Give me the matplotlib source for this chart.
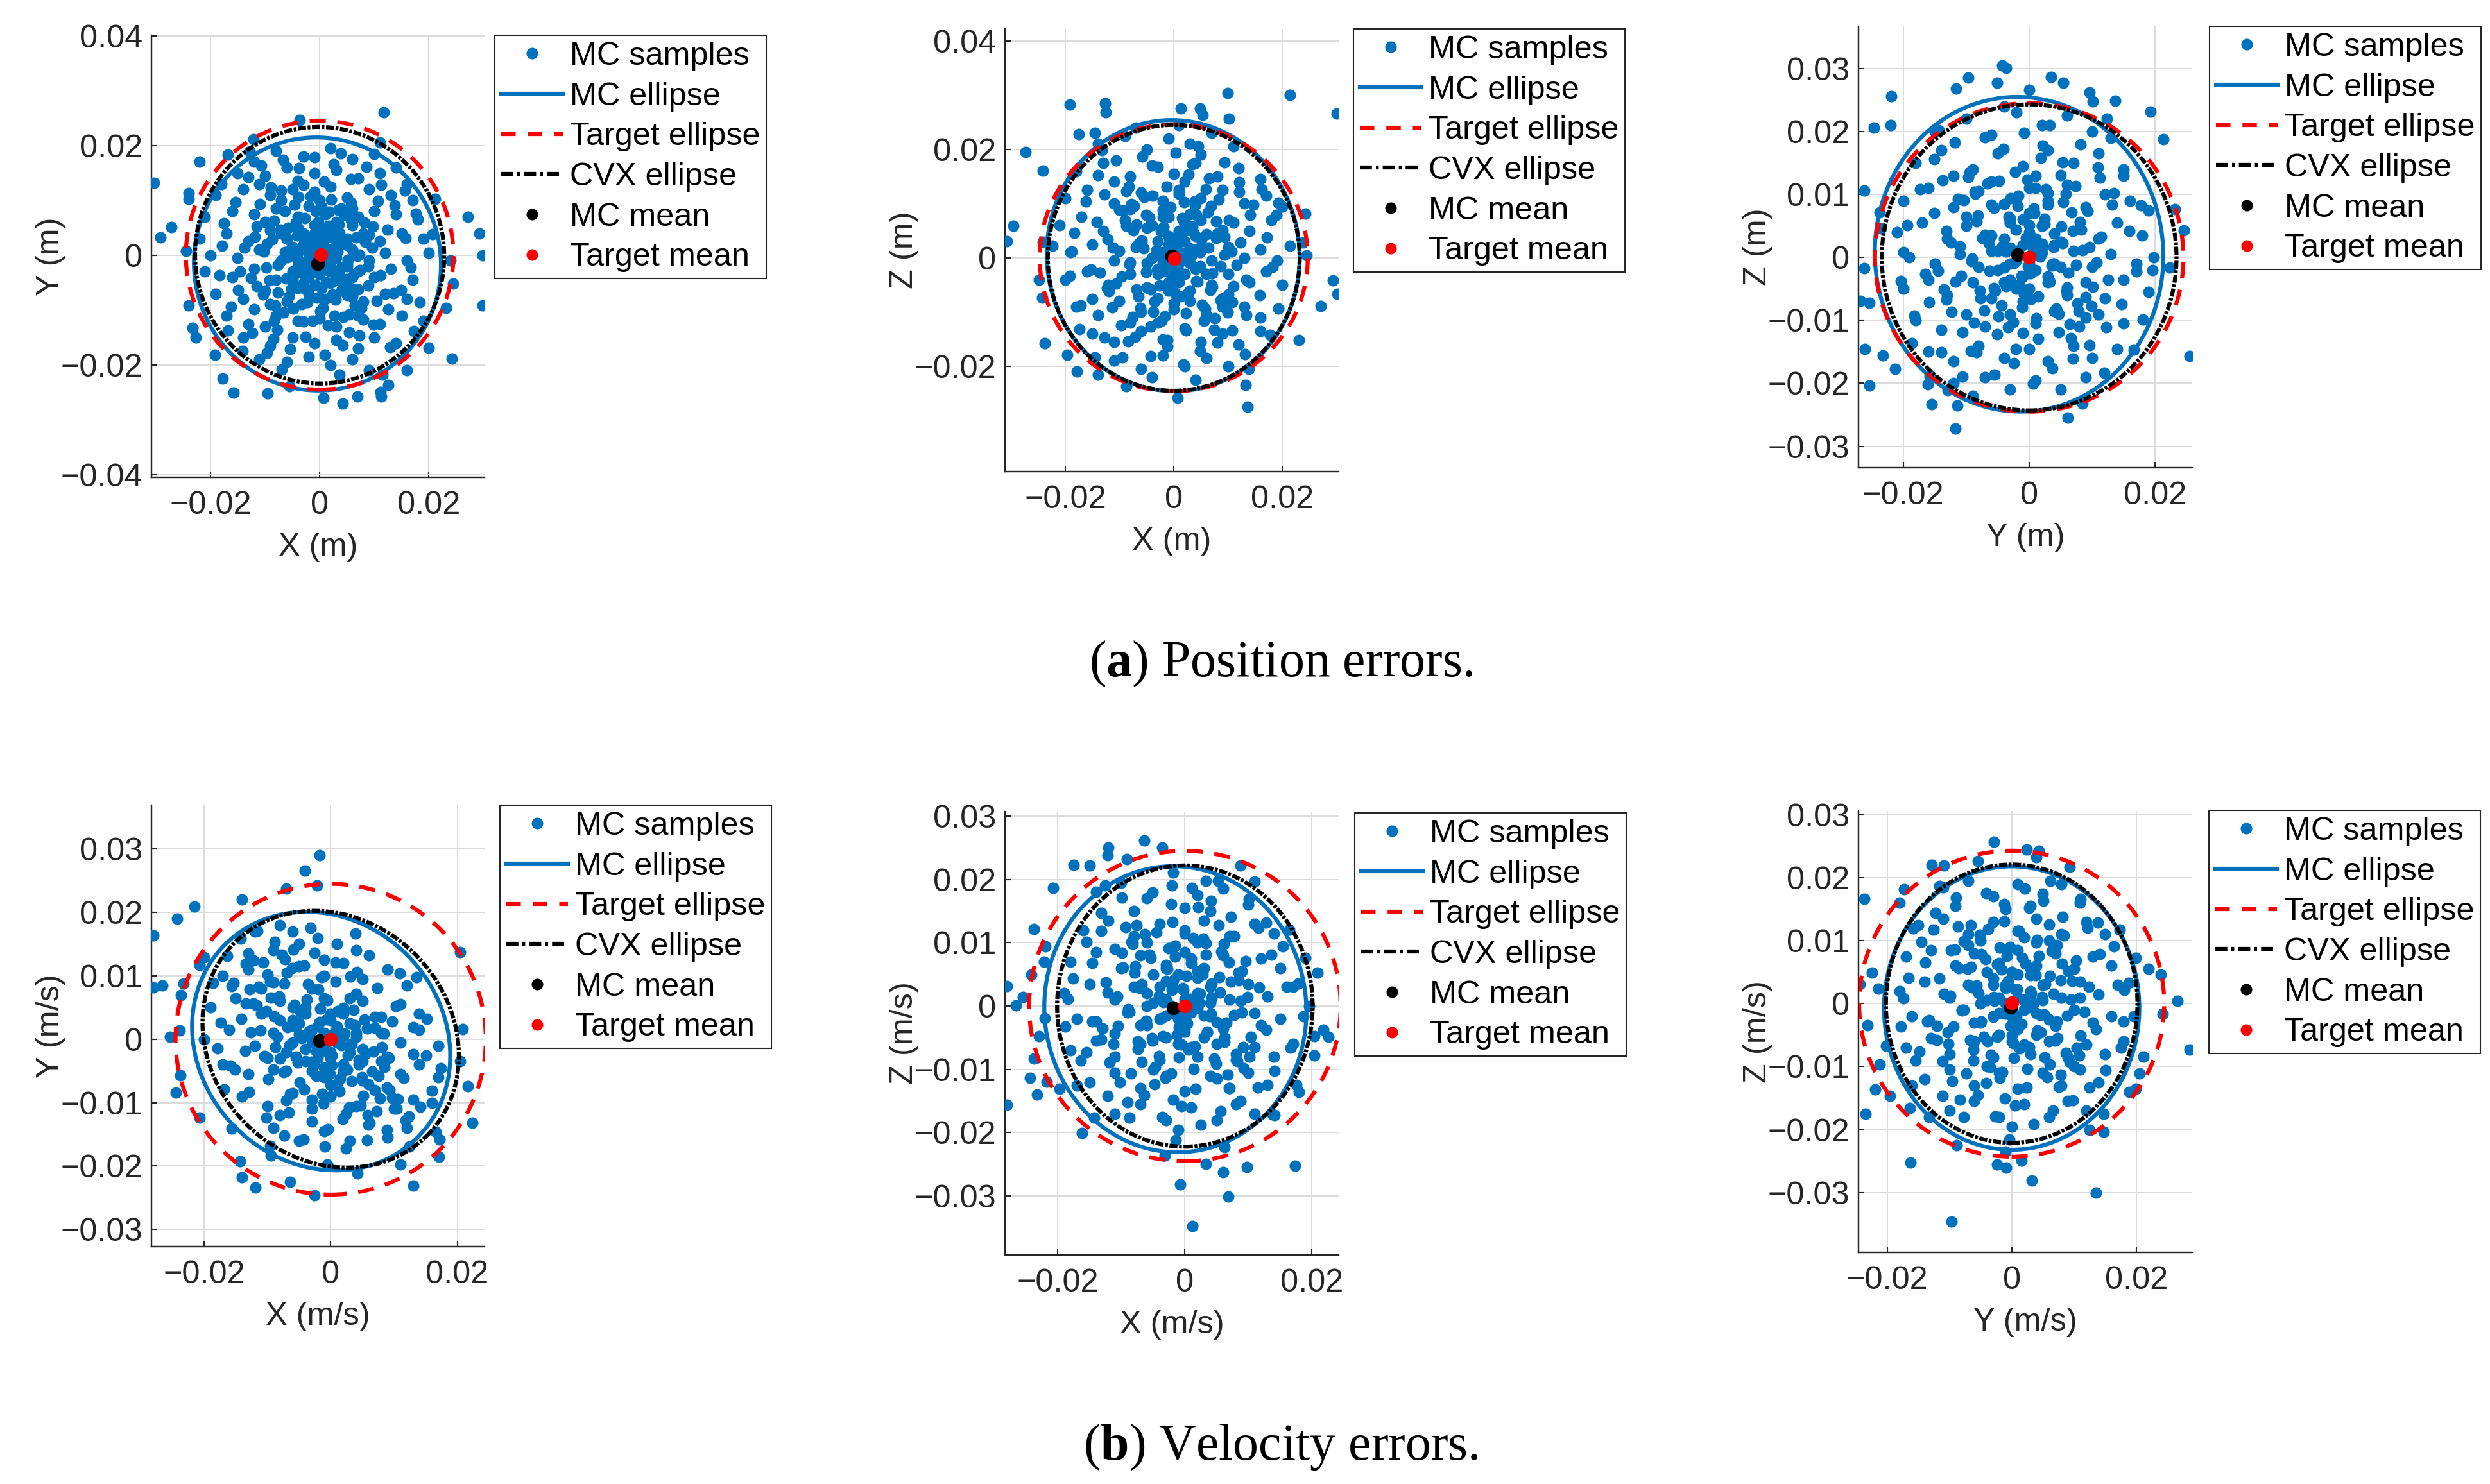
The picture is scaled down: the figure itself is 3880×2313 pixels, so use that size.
import numpy as np
import matplotlib
matplotlib.use("Agg")
import matplotlib.pyplot as plt
from matplotlib.patches import Ellipse
from matplotlib.lines import Line2D
from matplotlib.ticker import FuncFormatter

W, H, DPI = 3880, 2313, 250

# ------------------------------------------------------------------
# Data (mm or mm/s, converted to SI when plotted)
# ------------------------------------------------------------------
pos_xy = [
    (-30.3, 13.2), (11.8, 26.1), (-3.6, 24.6), (-22.0, 17.1), (-27.2, 5.1), (-29.2, 3.2), (-24.4, 0.8),
    (27.1, 7.0), (29.3, 4.0), (29.8, 0.0), (29.9, -9.2), (24.4, -5.2), (24.2, -18.8), (20.0, -16.9),
    (16.0, -21.0), (-15.7, -25.1), (-9.5, -25.2), (0.7, -26.0), (4.2, -27.1), (6.9, -25.8), (11.3, -25.8),
    (11.2, -24.9), (12.6, -23.6), (-19.2, -18.1), (-22.7, -15.0), (-23.3, -13.3), (-24.0, -9.2),
    (-24.0, 10.3), (-24.0, 11.3), (-16.8, 18.3), (-12.1, 21.2), (11.0, 20.6), (21.1, 10.3), (20.7, 3.8),
    (24.0, -1.0), (23.2, -9.6), (-17.8, -22.5), (-5.5, -23.9), (11.5, -21.8), (3.6, -21.8), (-6.9, -20.8),
    (-8, 19), (-3, 18), (2, 19.5), (6, 17.5), (10, 18.5), (-12, 17), (14, 16),
    (-15, 15), (-10, 14.5), (-6, 16), (-1, 15), (3, 15.5), (7, 14), (11, 15), (16, 13), (-18, 13), (-4, 13.5),
    (-19, 11), (-14, 12), (-9, 11), (-5, 12), (-1, 11.5), (2, 12.5), (5, 10.5), (9, 12), (13, 11), (17, 10),
    (-7, 10), (0, 10),
    (-21, 7), (-16, 8), (-12, 7.5), (-8, 8.5), (-4, 7), (-2, 9), (1, 7.5), (4, 8.5), (7, 7), (10, 8),
    (14, 7.5), (18, 6.5), (-10, 6), (3, 6),
    (-22, 3), (-17, 4), (-13, 2.5), (-9, 4.5), (-6, 3), (-3, 4), (0, 2.5), (2, 4.5), (5, 3), (8, 4),
    (11, 2.5), (15, 4), (19, 3), (-1, 5.5), (6, 5.5), (-5, 1.5),
    (-20, 0), (-15, -0.5), (-11, 1), (-7, -1), (-4, 0.5), (-2, -1.5), (1, 0), (3, -0.5), (6, 1), (9, -1),
    (12, 0.5), (16, -1), (20, 0.5), (-1, 1),
    (-21, -3), (-16, -4), (-12, -2.5), (-8, -4.5), (-5, -3), (-3, -5), (0, -3.5), (2, -2), (4, -4.5),
    (7, -3), (10, -4), (13, -2.5), (17, -4.5), (-1, -2), (5, -1.5),
    (-19, -7), (-14, -8), (-10, -6.5), (-6, -8.5), (-2, -7), (1, -8), (4, -6.5), (8, -8.5), (12, -7),
    (16, -8), (-4, -6), (6, -7.5),
    (-17, -11), (-13, -12.5), (-8, -11), (-4, -12), (0, -11.5), (3, -13), (7, -11), (11, -12.5),
    (15, -11), (19, -12), (-10, -13),
    (-14, -15), (-9, -16.5), (-5, -15), (-1, -16), (3, -15.5), (7, -17), (10, -15), (14, -16),
    (-6, -19.5), (-2, -18.5), (2, -20), (6, -19), (9, -21), (-11, -19),
    (-3, 2), (0, -1), (2, 1), (-2, -4), (1, 3), (-4, -2), (3, -3), (-1, 4), (4, 2), (-5, 0), (0, 5),
    (2, -5), (-3, -6), (5, -2), (-6, 3), (1, -2.5), (-2, 0.5), (3, 4), (-4, 5), (6, -4),
    (-11.5, 5.2), (-9.8, -2.3), (-8.7, 2.9), (-7.6, -6.8), (-6.4, 8.1), (-5.9, -0.4), (-4.8, -9.7),
    (-4.1, 3.6), (-3.5, -3.2), (-2.7, 6.8), (-2.2, -8.6), (-1.4, 1.9), (-0.8, -5.4), (0.3, 8.9),
    (0.9, -1.7), (1.6, 5.3), (2.4, -7.2), (3.1, 2.6), (3.8, -3.9), (4.5, 7.4), (5.2, -0.8), (5.9, -6.1),
    (6.7, 3.3), (7.4, -2.7), (8.2, 5.9), (8.9, -5.5), (9.6, 1.4), (10.4, -8.3), (-12.6, -4.1),
    (-10.9, 9.3), (-9.1, -8.9), (-7.2, 4.7), (-6.1, -4.2), (-5.3, 1.1), (-3.9, 10.6), (-3.0, -12.1),
    (-1.9, 3.1), (-1.1, -3.0), (-0.2, 6.1), (0.6, -9.6), (1.3, 0.8), (2.1, 10.2), (2.8, -4.6), (3.6, 4.1),
    (4.3, -11.3), (5.0, 1.9), (5.8, 9.6), (6.5, -9.2), (7.3, 0.1), (8.0, -11.7), (-13.8, 1.4),
    (-12.0, -9.8), (-10.2, 0.7), (-8.3, -11.9), (-7.0, 11.8), (-5.6, -7.5), (-4.4, 5.9), (-2.5, -1.1),
    (-0.5, -7.8), (1.9, -2.9), (3.4, 8.3), (4.9, -4.4), (6.2, 6.8), (9.1, 3.7), (11.2, -3.6), (12.4, 4.6),
    (10.7, 9.9), (-2.9, 12.9), (0.8, 13.4), (-8.5, -15.2), (5.4, -14.1), (13.5, -6.9), (-14.9, -6.4),
    (-11.0, 13.0), (1.5, -12.8),
    (-9.2, -4.6), (-8.4, 6.3), (-7.7, -1.8), (-7.0, 3.9), (-6.6, -10.4), (-5.8, 5.0), (-5.2, -6.1),
    (-4.6, 9.2), (-4.0, -0.7), (-3.3, -8.9), (-2.8, 3.3), (-2.1, -6.4), (-1.6, 10.7), (-1.0, -1.2),
    (-0.4, 4.4), (0.1, -10.2), (0.7, 1.6), (1.2, -4.9), (1.8, 7.9), (2.3, -0.9), (2.9, -8.1), (3.5, 5.6),
    (4.0, -2.2), (4.6, 2.9), (5.1, -7.3), (5.7, 6.4), (6.3, -3.4), (6.9, -0.1), (7.6, -9.6), (8.3, 2.4),
    (-10.4, -7.2), (-9.6, 2.1), (-8.1, -9.1), (-6.3, 0.6), (-4.9, -4.3), (-3.6, 6.9), (-2.4, -2.7),
    (-1.3, -11.9), (0.4, -6.0), (1.5, 3.8), (2.7, -11.0), (3.3, 0.7), (4.8, -5.2), (6.0, 8.5), (7.1, -6.2),
    (8.9, -2.0), (9.8, 5.2), (-11.9, 3.4), (-0.7, 8.1), (5.4, -10.8),
    (-17.5, 5.8), (-16.2, -9.4), (-15.4, 9.7), (-14.6, -2.9), (-13.1, 14.3), (-12.4, -14.2), (-11.5, -5.6),
    (-10.7, 16.4), (-9.6, -17.8), (-8.9, 12.4), (-7.8, -13.6), (-6.7, 17.4), (-5.4, -17.1), (-3.8, 15.9),
    (-2.6, -14.9), (-0.9, 17.9), (0.9, -18.2), (2.6, 16.6), (4.2, -16.4), (5.7, 13.9), (7.3, -14.7),
    (8.6, 16.1), (9.9, -12.7), (11.3, 12.9), (12.6, -9.8), (13.8, 9.1), (14.9, -6.3), (15.8, 3.1),
    (16.7, -2.2), (17.6, 7.6), (18.3, -8.6), (-18.4, -3.6), (-17.9, 1.7), (-16.8, -13.7), (-14.1, -17.4),
    (12.9, -16.7), (15.6, 11.8), (-12.8, 18.9), (3.9, 18.6), (17.3, -13.8),
]

pos_xz = [
    (9.9, 30.4), (21.4, 30.0), (30.0, 26.6), (-19.1, 28.3), (-12.7, 28.5), (-12.5, 26.8), (1.3, 27.5),
    (4.9, 27.5), (5.3, 26.3), (10.2, 25.6), (-17.5, 22.8), (-14.6, 23.0), (-27.3, 19.5), (-24.1, 16.1),
    (-29.6, 5.9), (-30.8, 3.1), (-24.8, -4.0), (-24.2, -7.4), (-23.8, -15.8), (-19.6, -17.9),
    (-17.8, -20.9), (-13.9, -21.5), (-8.7, -23.7), (0.7, -25.8), (13.6, -27.5), (13.2, -23.4),
    (13.8, -20.5), (23.1, -15.2), (27.1, -8.9), (29.3, -4.2), (30.2, -6.7), (24.2, 8.1), (24.5, 0.5),
    (23.8, 2.8), (19.3, 10.1), (21.4, 2.2), (-24.1, 2.9), (-22.4, 2.2),
    (-14, 21), (-9, 22.5), (-5, 20), (-1, 22), (3, 21), (7, 23), (11, 20.5), (-7, 24), (1, 24.5), (5, 19),
    (-18, 16), (-13, 17.5), (-8, 15), (-4, 17), (0, 15.5), (4, 17.5), (8, 15), (12, 16.5), (16, 14.5),
    (-11, 14), (2, 14),
    (-20, 11), (-16, 12.5), (-11, 10), (-6, 12), (-2, 10.5), (1, 12.5), (5, 11), (9, 12.5), (13, 10),
    (17, 11.5), (20, 9.5), (-8, 9),
    (-21, 6), (-17, 7.5), (-13, 5), (-9, 7), (-5, 5.5), (-2, 7.5), (2, 5), (5, 7), (8, 4.5), (11, 6.5),
    (14, 5), (18, 7), (-1, 4), (3, 8),
    (-19, 1), (-15, 2.5), (-11, -0.5), (-7, 2), (-4, 0), (-1, 2.5), (1, -1), (4, 1.5), (7, -0.5), (10, 2),
    (13, 0), (16, 1.5), (19, -0.5), (-2, 1), (2, 3),
    (-20, -4), (-16, -2.5), (-12, -5), (-8, -3), (-5, -5.5), (-2, -2.5), (1, -4.5), (4, -2), (7, -5),
    (10, -3), (14, -4.5), (17, -2.5), (20, -5), (-1, -6),
    (-18, -9), (-14, -10.5), (-10, -8), (-6, -10), (-3, -7.5), (0, -9.5), (3, -8), (6, -10.5), (9, -7.5),
    (13, -9), (16, -11), (-8, -12),
    (-15, -14), (-11, -15.5), (-6, -13.5), (-2, -15), (2, -13), (5, -15.5), (9, -14), (12, -16),
    (16, -13.5), (-3, -12),
    (-11, -19), (-6, -20.5), (-2, -18), (2, -20), (6, -18.5), (10, -20), (-4, -22), (4, -22.5),
    (-1, 0.5), (1, 1), (0, -2), (-3, 3), (3, -1), (2, -3), (-2, -1), (0, 3), (-3, -3), (1, 5), (-4, 6),
    (3, -6), (5, 2), (-5, -1), (-1, -4.5), (4, 4), (-6, 2.5), (2, 6.5), (-2, 5), (6, -3),
    (-12.2, 3.4), (-10.6, -4.8), (-9.3, 8.7), (-8.1, -1.2), (-7.4, 5.1), (-6.2, -9.3), (-5.5, 1.8),
    (-4.7, -5.6), (-3.9, 11.4), (-3.1, -2.2), (-2.4, 4.9), (-1.6, -10.8), (-0.9, 7.6), (-0.3, -3.7),
    (0.5, 2.2), (1.2, -7.1), (1.9, 10.3), (2.6, -0.5), (3.4, 5.8), (4.1, -4.3), (4.8, 1.1), (5.6, -11.6),
    (6.3, 8.4), (7.1, -2.9), (7.8, 3.7), (8.6, -7.8), (9.4, 0.6), (10.2, 6.9), (11.0, -5.2), (12.3, 2.8),
    (-13.6, -2.7), (-11.4, -9.1), (-10.1, 1.3), (-8.8, 12.3), (-6.9, -5.8), (-5.1, 7.9), (-4.2, -12.7),
    (-2.8, 0.4), (-1.3, 13.1), (0.1, -6.4), (0.9, 4.6), (2.3, -13.4), (3.0, 1.7), (3.9, 9.7), (5.2, -8.6),
    (6.0, 4.4), (6.8, -5.9), (8.3, 10.8), (9.9, -10.1), (11.6, -1.3), (-14.2, 6.6), (-12.8, 11.7),
    (-9.7, -12.4), (-7.8, 9.9), (-6.5, 2.6), (-3.5, -8.1), (-2.0, 8.9), (0.7, -1.9), (1.6, 7.3),
    (4.5, -1.8), (5.9, 12.6), (7.5, -13.3), (9.0, 5.1), (10.8, -8.2), (13.4, -4.0), (-1.2, -15.1),
    (2.7, 15.3), (-8.4, -15.4), (12.1, 12.2), (-15.0, -7.6), (14.1, 7.9),
    (-9.6, -3.4), (-8.8, 5.9), (-8.0, -0.8), (-7.3, 9.6), (-6.5, -7.1), (-5.9, 3.2), (-5.1, -2.6),
    (-4.5, 7.4), (-3.8, -9.9), (-3.2, 1.4), (-2.6, -5.1), (-1.9, 5.7), (-1.3, -1.3), (-0.6, 9.3),
    (0.0, -8.4), (0.6, 2.6), (1.3, -2.9), (1.9, 6.6), (2.5, -6.7), (3.2, 0.3), (3.8, 10.4), (4.4, -4.4),
    (5.1, 3.4), (5.8, -9.4), (6.4, 1.9), (7.1, -5.3), (7.8, 6.7), (8.6, -1.6), (9.4, 3.9), (10.1, -6.8),
    (-11.2, 1.9), (-10.1, 8.8), (-7.6, -10.9), (-5.4, 11.2), (-4.2, -5.8), (-2.2, -11.6), (-0.9, 3.9),
    (0.9, 11.8), (2.2, -10.2), (3.6, 4.8), (4.9, -1.5), (6.9, 9.6), (7.6, -11.1), (9.0, -9.0), (10.7, 1.2),
    (-12.3, -5.6), (-0.3, -4.9), (4.1, 7.9), (-6.9, 6.1), (1.7, 0.9),
    (-18.3, 4.6), (-17.1, -8.8), (-16.2, 10.4), (-15.3, -2.1), (-13.9, 15.2), (-12.8, -14.7), (-11.9, -6.2),
    (-10.6, 17.9), (-9.4, -18.4), (-8.3, 13.1), (-7.1, -14.6), (-5.8, 18.7), (-4.3, -18.1), (-2.9, 16.8),
    (-1.2, -16.3), (0.4, 19.4), (1.8, -19.6), (3.4, 17.3), (4.9, -17.2), (6.5, 14.7), (8.1, -15.6),
    (9.4, 17.6), (10.8, -13.4), (12.1, 13.9), (13.4, -10.6), (14.7, 9.8), (15.9, -6.9), (17.1, 3.8),
    (18.2, -1.7), (18.9, 7.9), (19.3, -9.4), (-19.2, -3.3), (-18.8, 1.2), (-17.4, -13.1), (-14.6, -18.3),
    (13.1, -17.8), (16.2, 12.6), (-13.2, 19.8), (4.5, 20.6), (17.8, -14.2),
]

pos_yz = [
    (-4.3, 30.5), (-3.7, 30.1), (-9.7, 28.5), (3.5, 28.6), (5.4, 27.7), (-11.6, 26.8), (-5.1, 27.7),
    (0.0, 26.6), (9.6, 26.2), (10.1, 24.8), (13.7, 24.9), (-21.9, 25.6), (-24.7, 20.6), (-22.0, 21.0),
    (19.3, 23.1), (21.3, 18.8), (-26.2, 10.6), (23.1, 7.7), (24.6, 4.3), (-26.8, -6.9), (-25.4, -7.2),
    (-26.1, -14.5), (-23.2, -15.6), (-21.3, -17.7), (-25.4, -20.4), (-15.5, -23.3), (-11.4, -23.5),
    (-11.7, -27.2), (6.1, -25.5), (8.5, -23.2), (25.5, -15.7), (19.8, 0.0), (19.6, -2.0), (22.3, -1.6),
    (-26.2, -1.7), (-23.5, 4.6), (-23.7, 7.2), (-16.1, -20.2), (-12.9, -21.1), (12.3, 22.0),
    (-15, 20), (-10, 22), (-6, 19.5), (-2, 23), (2, 21), (6, 22.5), (10, 20), (-4, 24), (13, 19),
    (-18, 15), (-14, 17), (-9, 14), (-5, 16.5), (-1, 14.5), (3, 17), (7, 15), (11, 16.5), (15, 14),
    (-12, 13), (1, 13),
    (-20, 9), (-16, 11), (-12, 8), (-8, 10.5), (-4, 8.5), (0, 11), (3, 9), (6, 11.5), (9, 8), (12, 10),
    (16, 9), (19, 7.5), (-6, 12),
    (-21, 4), (-17, 5.5), (-13, 3), (-10, 5), (-6, 3.5), (-3, 5.5), (0, 3), (2, 5), (5, 2.5), (8, 4.5),
    (11, 3), (14, 5.5), (18, 3.5), (-1, 6),
    (-19, 0), (-15, -1), (-11, 0.5), (-8, -1.5), (-5, 1), (-2, -0.5), (1, 0.5), (4, -1), (7, 1),
    (10, -1.5), (13, 0.5), (17, -1), (-3, 1.5),
    (-20, -5), (-16, -3.5), (-13, -6), (-9, -4), (-6, -6.5), (-3, -3.5), (0, -5), (3, -3), (6, -6),
    (9, -4), (12, -6.5), (15, -3.5), (19, -5.5), (-1, -7),
    (-18, -10), (-14, -11.5), (-10, -9), (-7, -11), (-3, -9), (1, -10.5), (4, -8.5), (8, -11), (11, -9),
    (15, -10.5), (-1, -12),
    (-16, -15), (-12, -16.5), (-8, -14), (-4, -16), (0, -14.5), (3, -16.5), (7, -14), (10, -16),
    (14, -14.5),
    (-12, -20), (-7, -19), (-3, -21), (1, -19.5), (5, -21), (9, -19), (-9, -22),
    (-2, 1), (0, -1), (-1, 2), (1, -2), (-3, -1), (2, 1.5), (-1, -3), (0, 4), (-4, 3), (3, -4), (-5, -2),
    (2, 5), (4, 2), (-2, -5), (-6, 1), (1, 3), (-3, 5.5), (5, -1.5), (-4, -4), (0, 7),
    (-13.1, 4.2), (-11.7, -3.9), (-10.4, 9.1), (-9.2, -0.6), (-8.3, 5.7), (-7.1, -8.4), (-6.4, 2.3),
    (-5.6, -4.9), (-4.8, 12.1), (-4.0, -1.6), (-3.3, 6.4), (-2.5, -10.3), (-1.8, 8.2), (-1.2, -2.9),
    (-0.4, 2.7), (0.3, -6.6), (1.0, 11.0), (1.7, 0.1), (2.5, 6.1), (3.2, -3.8), (3.9, 1.6), (4.7, -11.9),
    (5.4, 8.8), (6.2, -2.4), (6.9, 4.2), (7.7, -7.3), (8.5, 1.1), (9.3, 7.4), (10.1, -4.7), (11.4, 3.3),
    (-14.5, -2.1), (-12.3, -8.6), (-11.0, 1.8), (-9.7, 12.8), (-7.8, -5.3), (-6.0, 8.4), (-5.1, -12.2),
    (-3.7, 0.9), (-2.2, 13.6), (-0.8, -5.9), (0.0, 5.1), (1.4, -12.9), (2.1, 2.2), (3.0, 10.2),
    (4.3, -8.1), (5.1, 4.9), (5.9, -5.4), (7.4, 11.3), (9.0, -9.6), (10.7, -0.8), (-15.1, 7.1),
    (-13.7, 12.2), (-10.6, -11.9), (-8.7, 10.4), (-7.4, 3.1), (-4.4, -7.6), (-2.9, 9.4), (-0.2, -1.4),
    (0.7, 7.8), (3.6, -1.3), (5.0, 13.1), (6.6, -12.8), (8.1, 5.6), (9.9, -7.7), (12.5, -3.5),
    (-2.1, -14.6), (1.8, 15.8), (-9.3, -14.9), (11.2, 12.7), (-15.9, -7.1), (13.2, 8.4),
    (-10.8, -2.9), (-10.0, 6.4), (-9.1, -0.2), (-8.5, 10.1), (-7.7, -6.5), (-7.0, 3.6), (-6.3, -2.1),
    (-5.6, 7.9), (-4.9, -9.4), (-4.3, 1.8), (-3.7, -4.6), (-3.0, 6.2), (-2.4, -0.9), (-1.7, 9.8),
    (-1.1, -7.9), (-0.5, 3.1), (0.2, -2.5), (0.8, 7.1), (1.4, -6.2), (2.1, 0.7), (2.7, 10.8), (3.3, -3.9),
    (4.0, 3.8), (4.7, -8.9), (5.3, 2.3), (6.0, -4.8), (6.7, 7.2), (7.5, -1.2), (8.3, 4.4), (9.0, -6.3),
    (-12.4, 2.4), (-11.3, 9.3), (-8.8, -10.4), (-6.6, 11.7), (-5.4, -5.3), (-3.4, -11.1), (-2.1, 4.4),
    (-0.3, 12.3), (1.1, -9.7), (2.5, 5.3), (3.8, -1.0), (5.8, 10.1), (6.4, -10.6), (7.9, -8.5), (9.6, 1.7),
    (-13.5, -5.1), (-1.5, -4.4), (3.0, 8.4), (-8.1, 6.6), (0.6, 1.4),
    (-19.4, 5.1), (-18.2, -9.3), (-17.3, 10.8), (-16.5, -2.6), (-15.1, 15.6), (-14.0, -15.1), (-13.1, -6.7),
    (-11.8, 18.3), (-10.6, -18.9), (-9.5, 13.5), (-8.3, -15.1), (-7.0, 19.1), (-5.5, -18.6), (-4.1, 17.2),
    (-2.4, -16.8), (-0.8, 19.8), (0.6, -20.1), (2.2, 17.7), (3.7, -17.6), (5.3, 15.1), (6.9, -16.1),
    (8.2, 18.0), (9.6, -13.9), (10.9, 14.3), (12.2, -11.1), (13.5, 10.2), (14.7, -7.4), (15.9, 4.2),
    (17.0, -2.2), (17.7, 8.3), (18.1, -9.9), (-20.4, -3.8), (-20.0, 0.8), (-18.6, -13.6), (-15.8, -18.8),
    (11.9, -18.3), (15.0, 13.0), (-14.4, 20.2), (3.3, 21.0), (16.6, -14.7),
]

vel_xy = [
    (-1.7, 29.0), (-4.1, 26.6), (-2.2, 24.3), (-7.0, 23.7), (-14.0, 22.0), (-21.5, 20.9), (-24.2, 19.0),
    (-28.0, 16.4), (-28.0, 8.2), (-26.6, 8.5), (-23.2, 8.8), (-25.4, 0.4), (-23.8, 1.4), (-23.7, -5.7),
    (-24.4, -8.4), (-20.7, -12.4), (-15.6, -14.1), (-14.3, -19.2), (-14.0, -21.8), (-11.9, -23.4),
    (-6.4, -22.5), (-2.6, -24.6), (4.2, -21.2), (11.0, -19.8), (13.0, -23.1), (17.1, -18.5),
    (17.2, -15.8), (22.4, -13.2), (21.7, -7.4), (20.4, -3.5), (20.9, 1.6), (20.4, 13.7), (3.9, 16.7),
    (13.6, 9.8), (15.2, 3.2), (-20.7, 11.7), (-23.6, 7.0), (-20.0, 12.9), (-9.4, -18.3), (-0.5, -19.8),
    (-12, 17), (-8, 18), (-5, 15), (-9, 14), (-2, 16), (1, 15), (4, 14), (-13, 13.5), (-6, 17),
    (-17, 10), (-13, 11), (-9, 9), (-5, 11.5), (-1, 10), (2, 12), (5, 9.5), (9, 11), (12, 8.5), (-11, 8),
    (-3, 8),
    (-19, 5), (-15, 6.5), (-11, 4), (-8, 6), (-4, 5), (-1, 6.5), (2, 4), (5, 6), (8, 3.5), (11, 5.5),
    (14, 4), (-6, 3), (0, 3),
    (-20, 0), (-16, 1.5), (-12, -1), (-9, 1), (-6, -0.5), (-3, 1.5), (-1, -1), (2, 0.5), (5, -1.5), (8, 1),
    (11, -0.5), (14, 1.5), (17, -1), (-4, -1.5), (1, 2),
    (-17, -4), (-13, -5.5), (-10, -3), (-7, -5), (-4, -3.5), (-1, -6), (2, -4), (5, -6.5), (8, -3.5),
    (11, -5.5), (14, -4), (17, -6), (0, -3),
    (-14, -9), (-10, -10.5), (-6, -8.5), (-3, -11), (0, -9), (4, -10.5), (7, -8), (10, -11), (13, -9.5),
    (16, -10), (-8, -12),
    (-9, -14), (-5, -16), (-1, -14.5), (3, -16), (6, -13.5), (9, -15.5), (12, -14), (-3, -13),
    (-2, 2), (0, -2), (-3, 0), (-1, 1), (1, -0.5), (-5, 2.5), (3, -2), (-2, -3), (-4, 4), (2, -5),
    (-6, 5), (4, 1), (-7, -2), (-3, -5), (0, 4), (-8, 3), (1, -7), (5, -3.5), (-1, -4.5), (3, 2.5),
    (-12.8, 7.9), (-11.1, 1.4), (-10.0, 10.2), (-8.9, 3.6), (-8.0, -3.1), (-7.3, 8.8), (-6.5, -0.9),
    (-5.7, 5.4), (-4.9, -6.8), (-4.2, 11.6), (-3.4, 1.3), (-2.7, -4.1), (-1.9, 7.9), (-1.3, -8.6),
    (-0.6, 3.1), (0.2, -2.6), (0.8, 9.1), (1.5, -6.2), (2.2, 0.9), (2.9, -10.7), (3.6, 4.6), (4.4, -3.3),
    (5.1, -8.9), (5.8, 1.7), (6.6, -5.1), (7.3, -11.4), (8.1, -1.2), (8.9, -7.6), (9.7, 2.8),
    (10.6, -9.4), (-14.1, 3.2), (-12.2, 12.4), (-10.5, -2.7), (-9.4, 6.6), (-7.7, 13.3), (-6.1, 2.1),
    (-5.2, -3.7), (-3.8, 6.2), (-2.3, -1.9), (-1.0, 12.5), (-0.1, -5.5), (1.1, 4.4), (1.9, -12.6),
    (3.3, -0.7), (4.0, 7.2), (4.9, -6.0), (6.2, -13.2), (7.0, 3.5), (8.5, -4.4), (11.5, -6.1),
    (-15.3, 8.9), (-13.5, -1.8), (-11.7, 5.3), (-9.9, -6.3), (-8.4, 0.4), (-6.9, 10.5), (-4.6, 0.2),
    (-3.0, -9.5), (-1.6, 4.8), (0.5, 0.9), (2.6, -4.8), (3.8, 2.2), (5.5, -2.2), (7.8, -9.3), (9.2, -3.0),
    (12.3, -12.2), (-7.0, -9.6), (3.1, 9.9), (13.1, -2.4), (-15.8, -4.2), (-0.4, -14.2),
    (-10.2, 4.4), (-9.5, 9.1), (-8.7, -1.2), (-8.1, 6.8), (-7.4, -5.2), (-6.8, 1.9), (-6.1, 11.2),
    (-5.5, -2.8), (-4.8, 4.3), (-4.2, -7.9), (-3.6, 8.7), (-2.9, -0.4), (-2.3, -5.8), (-1.7, 2.7),
    (-1.1, -10.1), (-0.5, 6.1), (0.2, -4.1), (0.8, 1.3), (1.4, -8.2), (2.0, 4.9), (2.7, -2.6), (3.3, -6.6),
    (4.0, 0.4), (4.7, -10.4), (5.3, 3.1), (6.0, -7.1), (6.8, -1.9), (7.6, -5.8), (8.4, 0.9), (9.3, -8.0),
    (-12.6, 1.1), (-11.4, 8.3), (-9.0, -4.8), (-7.2, 12.6), (-5.0, 0.8), (-3.1, -3.6), (-1.4, 9.8),
    (0.0, -7.2), (1.7, -0.9), (3.0, 6.4), (4.4, -4.0), (5.9, -12.0), (7.0, 1.8), (8.9, -2.8),
    (10.4, -11.0), (-13.4, 5.6), (-0.8, -1.8), (2.4, -11.8), (-6.4, -8.6), (-10.7, 12.1),
    (-18.6, 8.9), (-17.4, 2.6), (-16.3, 13.1), (-15.1, -4.8), (-14.2, 15.9), (-12.9, -8.3), (-11.6, 17.1),
    (-10.2, -12.4), (-8.8, 15.4), (-7.3, -15.2), (-5.9, 14.1), (-4.3, -15.8), (-2.6, 13.6), (-0.9, -16.9),
    (0.8, 12.1), (2.4, -17.2), (4.1, 10.6), (5.8, -15.9), (7.4, 8.1), (8.9, -14.3), (10.3, 5.2),
    (11.8, -12.8), (13.1, 1.9), (14.2, -10.6), (15.1, -2.6), (16.0, -8.1), (16.6, -14.6), (12.4, -16.9),
    (-17.9, -1.4), (-15.6, 8.4), (-13.4, 11.9), (-16.8, -7.9), (17.4, -4.6), (10.9, 10.4), (-9.6, -16.8),
    (6.1, 13.2), (-12.2, 5.6), (9.7, -9.2), (-6.6, -11.6), (-3.2, 17.6),
]

vel_xz = [
    (-6.4, 26.1), (-12.0, 25.0), (-12.1, 23.8), (-3.6, 25.0), (-17.5, 22.3), (-15.0, 22.2), (-9.1, 23.2),
    (-20.7, 18.6), (-23.8, 12.2), (-21.9, 9.4), (-22.1, 7.0), (-24.2, 5.0), (-28.0, 3.1), (-25.5, 1.4),
    (-26.6, 0.1), (-22.0, -1.9), (-22.9, -4.8), (-23.8, -8.3), (-24.4, -11.3), (-23.3, -14.0),
    (-21.7, -11.9), (-28.0, -15.6), (-19.7, -13.1), (-16.2, -20.1), (-0.7, -28.2), (1.2, -34.7),
    (6.8, -30.1), (6.0, -26.2), (3.3, -24.9), (9.8, -25.4), (17.3, -25.2), (-3.2, -23.6), (6.2, -22.3),
    (14.1, -17.2), (17.5, -12.5), (20.4, -7.8), (21.8, -3.7), (22.6, -4.9), (20.4, -4.8), (20.9, 5.3),
    (17.0, 3.0), (19.6, 0.0), (8.8, 22.2), (11.0, 19.7), (-1.8, 21.1), (3.3, 19.8),
    (-14, 18), (-10, 19.5), (-6, 17), (-2, 19), (2, 17.5), (6, 18.5), (-8, 15), (0, 15.5), (4, 15),
    (10, 16),
    (-16, 12), (-12, 13.5), (-8, 11), (-4, 13), (0, 11.5), (3, 13.5), (7, 11), (11, 13), (14, 11.5),
    (-6, 10), (2, 10),
    (-18, 7), (-14, 8.5), (-10, 6), (-7, 8), (-3, 6.5), (0, 8.5), (3, 6), (6, 8), (9, 5.5), (12, 7.5),
    (15, 6), (-1, 5),
    (-19, 2), (-15, 3.5), (-11, 1), (-8, 3), (-5, 0.5), (-2, 2.5), (1, 0.5), (4, 3), (7, 1), (10, 3.5),
    (13, 1.5), (16, 3), (-3, 4), (2, 4.5),
    (-17, -2), (-13, -3.5), (-9, -1), (-6, -3), (-3, -1.5), (0, -3.5), (3, -1.5), (6, -3.5), (9, -1),
    (12, -3), (15, -2), (-1, -1),
    (-18, -7), (-14, -5.5), (-11, -8), (-7, -6), (-4, -8.5), (-1, -6), (2, -8), (5, -6), (8, -8.5),
    (11, -6.5), (14, -8), (17, -6),
    (-15, -12), (-11, -10.5), (-7, -13), (-3, -11), (0, -13.5), (4, -11), (7, -13), (10, -10.5),
    (13, -12.5), (-5, -10),
    (-11, -17), (-7, -15.5), (-3, -18), (1, -16), (5, -18), (8, -15.5), (11, -17), (-1, -19.5),
    (-2, 0), (0, 1), (-1, -2), (-3, 1), (1, -1), (-2, 3), (0, -4), (-4, -2), (2, 2), (-5, 5), (3, -5),
    (-6, 0), (4, 0.5), (-1, 5), (-3, -5), (1, -6.5), (-4, 3), (2, 5.5), (-7, -3), (5, -2.5),
    (-12.4, 3.8), (-11.0, -4.4), (-9.9, 8.4), (-8.7, -0.9), (-7.9, 5.3), (-6.8, -8.8), (-6.0, 2.0),
    (-5.2, -5.1), (-4.5, 11.7), (-3.7, -1.9), (-3.0, 6.0), (-2.2, -10.6), (-1.5, 7.8), (-0.9, -3.3),
    (-0.2, 2.5), (0.6, -6.9), (1.3, 10.7), (2.0, -0.3), (2.8, 5.5), (3.5, -4.0), (4.2, 1.3), (5.0, -11.4),
    (5.7, 8.6), (6.5, -2.6), (7.2, 3.9), (8.0, -7.6), (8.8, 0.8), (9.6, 7.1), (10.4, -4.9), (11.7, 2.9),
    (-14.0, -2.4), (-11.8, -8.9), (-10.6, 1.5), (-9.3, 12.5), (-7.4, -5.6), (-5.6, 8.1), (-4.8, -12.4),
    (-3.4, 0.6), (-1.9, 13.3), (-0.5, -6.1), (0.3, 4.8), (1.7, -13.1), (2.4, 1.9), (3.3, 9.9),
    (4.6, -8.3), (5.4, 4.6), (6.2, -5.7), (7.7, 11.0), (9.3, -9.8), (11.0, -1.1), (-14.6, 6.8),
    (-13.2, 11.9), (-10.2, -12.1), (-8.4, 10.1), (-7.1, 2.8), (-4.1, -7.9), (-2.6, 9.1), (0.1, -1.7),
    (1.0, 7.5), (3.9, -1.6), (5.3, 12.8), (6.9, -13.0), (8.4, 5.3), (10.2, -8.0), (12.8, -3.7),
    (-1.8, -14.8), (2.1, 15.6), (-9.0, -15.2), (11.6, 12.4), (-15.5, -7.3), (13.6, 8.1),
    (-10.5, -3.1), (-9.7, 6.1), (-8.9, -0.5), (-8.2, 9.8), (-7.4, -6.8), (-6.8, 3.4), (-6.1, -2.3),
    (-5.4, 7.6), (-4.7, -9.6), (-4.1, 1.6), (-3.5, -4.8), (-2.8, 5.9), (-2.2, -1.1), (-1.5, 9.5),
    (-0.9, -8.1), (-0.3, 2.8), (0.4, -2.7), (1.0, 6.8), (1.6, -6.4), (2.3, 0.5), (2.9, 10.6), (3.5, -4.1),
    (4.2, 3.6), (4.9, -9.1), (5.5, 2.1), (6.2, -5.0), (6.9, 6.9), (7.7, -1.4), (8.5, 4.1), (9.2, -6.5),
    (-12.1, 2.1), (-11.0, 9.0), (-8.5, -10.6), (-6.3, 11.4), (-5.1, -5.5), (-3.1, -11.3), (-1.8, 4.1),
    (0.0, 12.0), (1.4, -9.9), (2.8, 5.0), (4.1, -1.2), (6.1, 9.8), (6.7, -10.8), (8.2, -8.7), (9.9, 1.4),
    (-13.2, -5.3), (-1.2, -4.6), (3.3, 8.1), (-7.8, 6.3), (0.9, 1.1),
    (-17.6, 4.4), (-16.4, -8.6), (-15.5, 10.1), (-14.6, -2.4), (-13.2, 14.7), (-12.1, -14.2), (-11.2, -6.0),
    (-9.9, 17.1), (-8.7, -17.6), (-7.6, 12.8), (-6.4, -14.1), (-5.1, 17.9), (-3.6, -17.5), (-2.2, 16.1),
    (-0.5, -15.8), (1.1, 18.6), (2.5, -18.7), (4.1, 16.6), (5.6, -16.6), (7.2, 14.1), (8.8, -15.0),
    (10.1, 16.9), (11.5, -12.9), (12.8, 13.2), (14.1, -10.2), (15.4, 9.4), (16.6, -6.6), (17.8, 3.6),
    (18.6, -1.6), (18.9, 7.6), (-18.8, -3.2), (-18.4, 1.1), (-17.0, -12.6), (-14.3, -17.6), (13.8, -17.1),
    (16.4, 12.1), (-12.6, 19.0), (5.2, 19.8), (17.9, -13.6), (-1.4, -21.2),
]

vel_yz = [
    (-2.8, 25.7), (2.4, 24.5), (4.4, 24.3), (4.0, 23.3), (-5.4, 22.7), (-12.8, 22.0), (-10.9, 21.9),
    (9.3, 21.7), (-17.3, 18.2), (-23.7, 16.6), (-18.0, 16.0), (-15.8, 12.0), (-22.4, 4.9), (-24.4, 3.1),
    (-21.4, 2.4), (-23.2, -3.4), (-20.2, -6.7), (-21.2, -9.6), (-21.9, -13.6), (-19.6, -14.6),
    (-23.5, -17.5), (-16.4, -16.6), (-8.8, -22.5), (-16.2, -25.2), (-2.3, -25.5), (-0.9, -26.1),
    (1.6, -24.9), (-1.0, -23.5), (3.2, -28.1), (13.5, -30.0), (-9.7, -34.6), (12.5, -20.0), (14.8, -20.3),
    (19.9, -13.5), (20.5, -11.1), (21.2, -8.4), (28.6, -7.3), (24.3, -1.6), (26.6, 0.4), (23.9, 4.6),
    (22.0, 5.5), (18.1, 2.2), (18.0, -2.8),
    (-11, 18.5), (-7, 19.5), (-3, 17), (1, 19), (5, 17.5), (8, 19), (-9, 15.5), (-1, 15), (3, 15.5),
    (11, 16),
    (-15, 12.5), (-11, 13.5), (-7, 11), (-3, 13), (1, 11.5), (4, 13.5), (8, 11), (12, 13), (15, 11),
    (-5, 10), (6, 10),
    (-17, 7.5), (-13, 8.5), (-9, 6), (-6, 8), (-2, 6.5), (1, 8.5), (4, 6), (7, 8), (10, 5.5), (13, 7.5),
    (16, 6), (0, 5),
    (-18, 2), (-14, 3.5), (-10, 1), (-7, 3), (-4, 0.5), (-1, 2.5), (2, 0.5), (5, 3), (8, 1), (11, 3.5),
    (14, 1.5), (17, 3), (-3, 4), (3, 4.5),
    (-16, -2), (-12, -3.5), (-8, -1), (-5, -3), (-2, -1.5), (1, -3.5), (4, -1.5), (7, -3.5), (10, -1),
    (13, -3), (16, -2), (0, -1),
    (-17, -7), (-13, -5.5), (-10, -8), (-6, -6), (-3, -8.5), (0, -6), (3, -8), (6, -6), (9, -8.5),
    (12, -6.5), (15, -8), (18, -6),
    (-14, -12), (-10, -10.5), (-6, -13), (-2, -11), (1, -13.5), (5, -11), (8, -13), (11, -10.5),
    (14, -12.5), (-4, -10),
    (-10, -17), (-6, -15.5), (-2, -18), (2, -16), (6, -18), (9, -15.5), (12, -17), (0, -19.5),
    (-1, 0), (1, 1), (0, -2), (-2, 1), (2, -1), (-1, 3), (1, -4), (-3, -2), (3, 2), (-4, 5), (4, -5),
    (-5, 0), (5, 0.5), (0, 5), (-2, -5), (2, -6.5), (-3, 3), (3, 5.5), (-6, -3), (6, -2.5),
    (-11.6, 4.0), (-10.3, -4.6), (-9.1, 8.6), (-8.0, -1.1), (-7.1, 5.5), (-6.1, -9.0), (-5.3, 1.7),
    (-4.5, -5.3), (-3.8, 11.9), (-3.0, -2.1), (-2.3, 6.2), (-1.5, -10.9), (-0.8, 7.6), (-0.2, -3.5),
    (0.5, 2.3), (1.3, -7.1), (2.0, 10.5), (2.7, -0.6), (3.5, 5.7), (4.2, -4.2), (4.9, 1.1), (5.7, -11.7),
    (6.4, 8.4), (7.2, -2.8), (7.9, 3.7), (8.7, -7.8), (9.5, 0.6), (10.3, 6.9), (11.1, -5.1), (12.4, 2.7),
    (-13.3, -2.6), (-11.1, -9.1), (-9.9, 1.3), (-8.6, 12.3), (-6.7, -5.8), (-4.9, 7.9), (-4.1, -12.6),
    (-2.7, 0.4), (-1.2, 13.1), (0.2, -6.3), (1.0, 4.6), (2.4, -13.3), (3.1, 1.7), (4.0, 9.7),
    (5.3, -8.5), (6.1, 4.4), (6.9, -5.9), (8.4, 10.8), (10.0, -10.0), (11.7, -1.3), (-13.9, 6.6),
    (-12.5, 11.7), (-9.5, -12.3), (-7.7, 9.9), (-6.4, 2.6), (-3.4, -8.1), (-1.9, 8.9), (0.8, -1.9),
    (1.7, 7.3), (4.6, -1.8), (6.0, 12.6), (7.6, -13.2), (9.1, 5.1), (10.9, -8.2), (13.5, -4.0),
    (-1.1, -15.0), (2.8, 15.2), (-8.3, -15.3), (12.2, 12.1), (-14.8, -7.6), (14.2, 7.9),
    (-9.3, -3.6), (-8.5, 5.6), (-7.7, -1.0), (-7.0, 9.3), (-6.2, -7.3), (-5.6, 2.9), (-4.9, -2.8),
    (-4.2, 7.1), (-3.5, -10.1), (-2.9, 1.1), (-2.3, -5.3), (-1.6, 5.4), (-1.0, -1.6), (-0.3, 9.0),
    (0.3, -8.6), (0.9, 2.3), (1.6, -3.2), (2.2, 6.3), (2.8, -6.9), (3.5, 0.0), (4.1, 10.1), (4.7, -4.6),
    (5.4, 3.1), (6.1, -9.6), (6.7, 1.6), (7.4, -5.5), (8.1, 6.4), (8.9, -1.9), (9.7, 3.6), (10.4, -7.0),
    (-10.9, 1.6), (-9.8, 8.5), (-7.3, -11.1), (-5.1, 10.9), (-3.9, -6.0), (-1.9, -11.8), (-0.6, 3.6),
    (1.2, 11.5), (2.5, -10.4), (3.9, 4.5), (5.2, -1.7), (7.2, 9.3), (7.9, -11.3), (9.3, -9.2), (11.0, 0.9),
    (-12.0, -5.8), (0.0, -5.1), (4.4, 7.6), (-6.6, 5.8), (2.0, 0.6),
    (-16.6, 4.1), (-15.4, -9.0), (-14.5, 9.8), (-13.6, -2.8), (-12.2, 14.4), (-11.1, -14.6), (-10.2, -6.4),
    (-8.9, 16.8), (-7.7, -18.0), (-6.6, 12.5), (-5.4, -14.5), (-4.1, 17.6), (-2.6, -17.9), (-1.2, 15.8),
    (0.5, -16.2), (2.1, 18.3), (3.5, -19.1), (5.1, 16.3), (6.6, -17.0), (8.2, 13.8), (9.8, -15.4),
    (11.1, 16.6), (12.5, -13.3), (13.8, 12.9), (15.1, -10.6), (16.4, 9.1), (17.6, -7.0), (18.8, 3.3),
    (19.6, -2.0), (19.9, 7.3), (-17.8, -3.6), (-17.4, 0.8), (-16.0, -13.0), (-13.3, -18.0), (14.8, -17.5),
    (17.4, 11.8), (-11.6, 18.7), (6.2, 19.5), (18.9, -14.0), (-0.4, -21.6),
]

samples = [pos_xy, pos_xz, pos_yz, vel_xy, vel_xz, vel_yz]

# ellipses: (centre x, centre y, semi-axis along width, semi-axis along height, angle deg)
mc_ellipse = [(-0.4, -1.6, 22.6, 23.1, 12), (-0.1, 0.4, 23.3, 25.0, 5), (-1.6, 0.5, 22.9, 25.0, 4),
              (-1.5, -0.3, 19.2, 21.5, 45), (-1.5, -0.5, 20.6, 22.6, 5), (0.0, -0.7, 20.5, 22.5, 0)]
target_ellipse = [(0, 0, 24.5, 24.5, 0), (0, 0, 24.7, 24.6, 0), (0, 0, 24.5, 24.5, 0),
                  (0, 0, 24.5, 24.5, 0), (0, 0, 24.5, 24.5, 0), (0, 0, 24.5, 24.3, 0)]
cvx_ellipse = [(0, 0, 22.8, 23.4, 8), (0, 0, 23.2, 24.5, 0), (0, 0, 23.4, 24.3, 0),
               (0, 0, 18.9, 21.5, 45), (0, 0, 20.1, 22.2, 0), (0, 0, 20.2, 22.1, 0)]
mc_mean = [(-0.4, -1.6), (-0.4, 0.3), (-1.8, 0.4), (-1.7, -0.2), (-1.8, -0.3), (-0.2, -0.6)]
target_mean = [(0.2, 0.1), (0.1, -0.1), (0.0, 0.0), (0.0, 0.0), (0.0, 0.0), (0.0, 0.1)]

xlabels = ["X (m)", "X (m)", "Y (m)", "X (m/s)", "X (m/s)", "Y (m/s)"]
ylabels = ["Y (m)", "Z (m)", "Z (m)", "Y (m/s)", "Z (m/s)", "Z (m/s)"]
yticks = [[-0.04, -0.02, 0, 0.02, 0.04], [-0.02, 0, 0.02, 0.04],
          [-0.03, -0.02, -0.01, 0, 0.01, 0.02, 0.03], [-0.03, -0.02, -0.01, 0, 0.01, 0.02, 0.03],
          [-0.03, -0.02, -0.01, 0, 0.01, 0.02, 0.03], [-0.03, -0.02, -0.01, 0, 0.01, 0.02, 0.03]]
xticks = [-0.02, 0, 0.02]
legend_labels = ["MC samples", "MC ellipse", "Target ellipse", "CVX ellipse", "MC mean", "Target mean"]
captions = [r"($\mathbf{a}$) Position errors.", r"($\mathbf{b}$) Velocity errors."]

# ------------------------------------------------------------------
# Layout (pixels in the output image)
# ------------------------------------------------------------------
boxes = [(236, 55, 755, 744), (1566, 45, 2086, 735), (2896, 41, 3416, 729),
         (236, 1255, 755, 1943), (1566, 1265, 2086, 1956), (2896, 1264, 3416, 1952)]
xlims = [(-30.8, 30.2), (-31.1, 30.4), (-27.1, 25.9), (-28.3, 24.3), (-28.3, 24.2), (-24.6, 29.0)]
ylims = [(-40.5, 40.1), (-39.4, 42.2), (-33.4, 36.7), (-32.7, 36.9), (-39.3, 30.7), (-39.5, 30.6)]
legend_pos = [(771, 55), (2109, 45), (3443, 41), (779, 1255), (2111, 1267), (3442, 1263)]
caption_pos = [(1996, 1035), (1996, 2256)]

BLUE = "#0072BD"
AXC = "#262626"
FS = 14.5
LW = 1.8
TARGET_LS = (0, (4.0, 2.9))
CVX_LS = (0, (2.0, 0.4, 0.7, 0.4))

plt.rcParams['font.family'] = ['Liberation Sans', 'DejaVu Sans']
plt.rcParams['mathtext.fontset'] = 'custom'
plt.rcParams['mathtext.rm'] = 'Liberation Serif'
plt.rcParams['mathtext.bf'] = 'Liberation Serif:bold'


def tick_fmt(v, pos):
    s = f"{round(v, 4):g}"
    if s in ("0", "-0"):
        return "0"
    return s.replace("-", "\u2212")


fig = plt.figure(figsize=(W / DPI, H / DPI), dpi=DPI)

handles = [
    Line2D([], [], ls="none", marker="o", ms=5.2, mew=0, color=BLUE),
    Line2D([], [], ls="-", lw=LW, color=BLUE),
    Line2D([], [], ls=(0, (3.6, 3.0)), lw=LW, color="red"),
    Line2D([], [], ls=(0, (3.0, 1.0, 0.7, 1.0)), lw=LW, color="black"),
    Line2D([], [], ls="none", marker="o", ms=5.2, mew=0, color="black"),
    Line2D([], [], ls="none", marker="o", ms=5.2, mew=0, color="red"),
]

for i in range(6):
    l, t, r, b = boxes[i]
    wpx, hpx = r - l, b - t
    ax = fig.add_axes([l / W, 1 - b / H, wpx / W, hpx / H])

    s = np.array(samples[i]) * 1e-3
    ax.plot(s[:, 0], s[:, 1], ls="none", marker="o", ms=5.2, mew=0, color=BLUE, zorder=3)

    for params, col, ls in ((mc_ellipse[i], BLUE, "-"),
                            (target_ellipse[i], "red", TARGET_LS),
                            (cvx_ellipse[i], "black", CVX_LS)):
        cx, cy, a, bb, ang = params
        ax.add_patch(Ellipse((cx * 1e-3, cy * 1e-3), 2 * a * 1e-3, 2 * bb * 1e-3, angle=ang,
                             fill=False, ec=col, lw=LW, ls=ls, zorder=4))

    ax.plot(mc_mean[i][0] * 1e-3, mc_mean[i][1] * 1e-3, ls="none", marker="o", ms=6.2,
            mew=0, color="black", zorder=5)
    ax.plot(target_mean[i][0] * 1e-3, target_mean[i][1] * 1e-3, ls="none", marker="o", ms=6.2,
            mew=0, color="red", zorder=6)

    ax.set_xlim(xlims[i][0] * 1e-3, xlims[i][1] * 1e-3)
    ax.set_ylim(ylims[i][0] * 1e-3, ylims[i][1] * 1e-3)
    ax.set_xticks(xticks)
    ax.set_yticks(yticks[i])
    ax.xaxis.set_major_formatter(FuncFormatter(tick_fmt))
    ax.yaxis.set_major_formatter(FuncFormatter(tick_fmt))

    for side in ("top", "right"):
        ax.spines[side].set_visible(False)
    for side in ("left", "bottom"):
        ax.spines[side].set_color(AXC)
        ax.spines[side].set_linewidth(0.7)
    ax.tick_params(direction="in", length=2.5, width=0.6, colors=AXC, labelsize=FS,
                   top=False, right=False)
    ax.tick_params(axis="x", pad=6)
    ax.tick_params(axis="y", pad=4)
    ax.grid(True, color="#dcdcdc", lw=0.6)
    ax.set_axisbelow(True)

    ax.set_xlabel(xlabels[i], fontsize=FS, color=AXC)
    ax.set_ylabel(ylabels[i], fontsize=FS, color=AXC)
    ax.xaxis.set_label_coords(0.5, -86 / hpx)
    ax.yaxis.set_label_coords(-134 / wpx, 0.5)

    lx, ly = legend_pos[i]
    leg = ax.legend(handles, legend_labels, loc="upper left", bbox_to_anchor=(lx / W, 1 - ly / H),
                    bbox_transform=fig.transFigure, borderaxespad=0, fontsize=FS, frameon=True,
                    fancybox=False, framealpha=1, edgecolor=AXC, borderpad=0.2,
                    labelspacing=0.33, handlelength=1.9, handletextpad=0.22, numpoints=1)
    leg.get_frame().set_linewidth(0.6)

for cap, (cx, cy) in zip(captions, caption_pos):
    fig.text(cx / W, 1 - cy / H, cap, ha="center", va="center", fontsize=23,
             family="Liberation Serif", color="black")

fig.savefig("out.png", dpi=DPI)
